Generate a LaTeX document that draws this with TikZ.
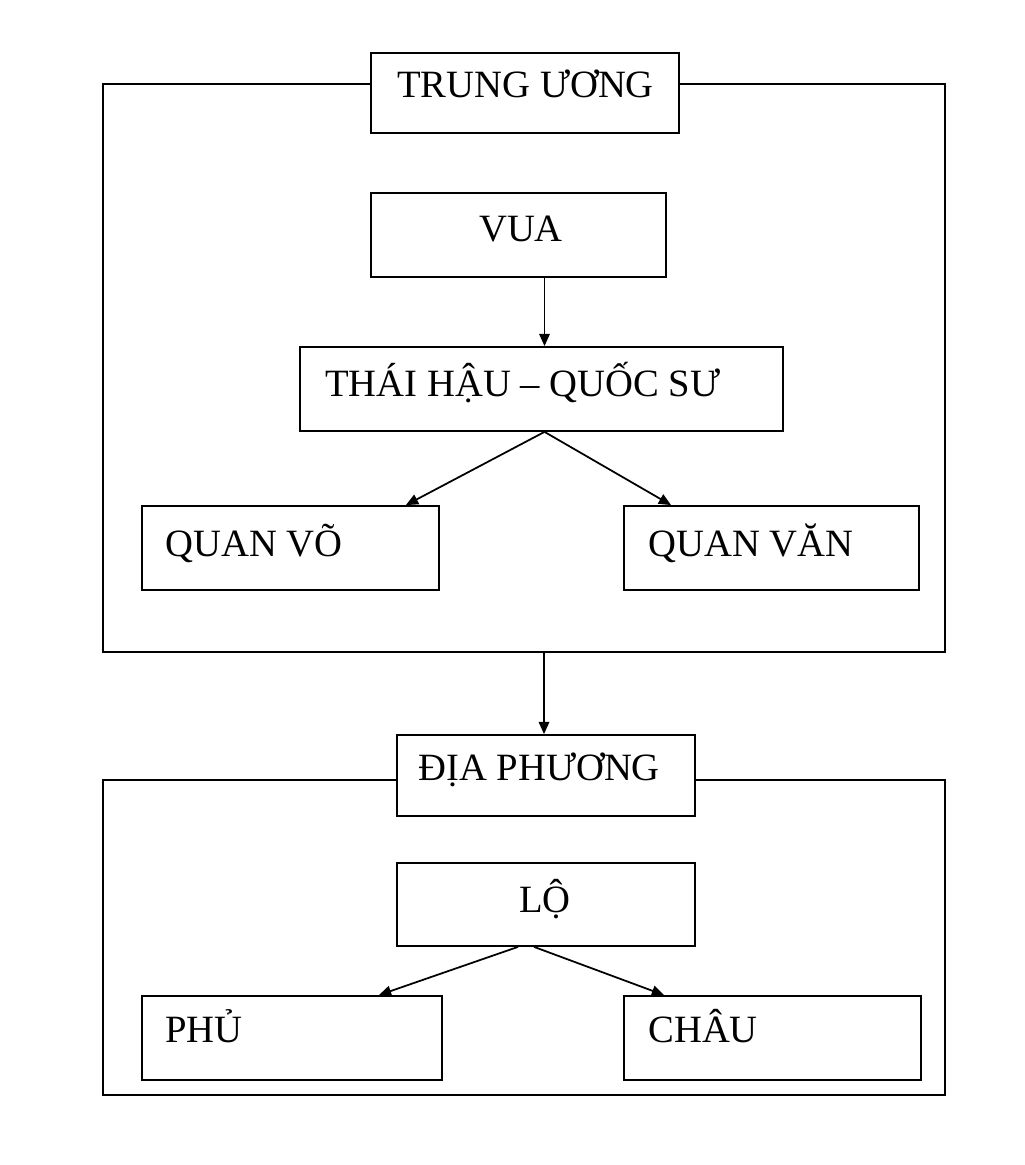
\documentclass[tikz,border=0pt]{standalone}
\usepackage{fontspec}
\setmainfont{Liberation Serif}
\usepackage{tikz}
\usetikzlibrary{arrows.meta,fit,calc}
\tikzset{
    khung/.style={draw, line width=1pt, inner sep=0pt},
    hop/.style={draw, line width=1pt, fill=white, inner sep=0pt},
    chu/.style={inner sep=0pt, font=\fontsize{22pt}{26pt}\selectfont},
    muiten/.style={line width=1pt, -{Triangle[length=7pt,width=6pt]}}
}

\begin{document}
\begin{tikzpicture}[x=0.02cm, y=-0.02cm]
        \useasboundingbox (0,0) rectangle (1024,1165);
        \node[khung, fit={(103,84) (945,652)}] (trunguong) {};
        \node[khung, fit={(103,780) (945,1095)}] (diaphuong) {};
        \node[hop, fit={(371,53) (679,133)}] (tu) {};
        \node[chu, anchor=base west] (tu-t) at (397,98) {TRUNG ƯƠNG};
        \node[hop, fit={(371,193) (666,277)}] (vua) {};
        \node[chu, anchor=base] (vua-t) at (521,242) {VUA};
        \node[hop, fit={(300,347) (783,431)}] (thai) {};
        \node[chu, anchor=base west] (thai-t) at (325,397) {THÁI HẬU – QUỐC SƯ};
        \node[hop, fit={(142,506) (439,590)}] (vo) {};
        \node[chu, anchor=base west] (vo-t) at (165,556) {QUAN VÕ};
        \node[hop, fit={(624,506) (919,590)}] (van) {};
        \node[chu, anchor=base west] (van-t) at (648,556) {QUAN VĂN};
        \node[hop, fit={(397,735) (695,816)}] (dp) {};
        \node[chu, anchor=base west] (dp-t) at (418,780) {ĐỊA PHƯƠNG};
        \node[hop, fit={(397,863) (695,946)}] (lo) {};
        \node[chu, anchor=base] (lo-t) at (545,912) {LỘ};
        \node[hop, fit={(142,996) (442,1080)}] (phu) {};
        \node[chu, anchor=base west] (phu-t) at (165,1042) {PHỦ};
        \node[hop, fit={(624,996) (921,1080)}] (chau) {};
        \node[chu, anchor=base west] (chau-t) at (648,1042) {CHÂU};
        \draw[muiten] ($(vua.south)+(26,0)$) -- ($(thai.north)+(3,0)$);
        \draw[muiten] ($(thai.south)+(3,0)$) -- ($(vo.north east)+(-34,0)$);
        \draw[muiten] ($(thai.south)+(3,0)$) -- ($(van.north west)+(48,0)$);
        \draw[muiten] ($(dp.north |- trunguong.south)+(-2,0)$) -- ($(dp.north)+(-2,0)$);
        \draw[muiten] ($(lo.south)+(-28,0)$) -- ($(phu.north east)+(-64,0)$);
        \draw[muiten] ($(lo.south)+(-12,0)$) -- ($(chau.north west)+(41,0)$);
    \end{tikzpicture}
\end{document}
